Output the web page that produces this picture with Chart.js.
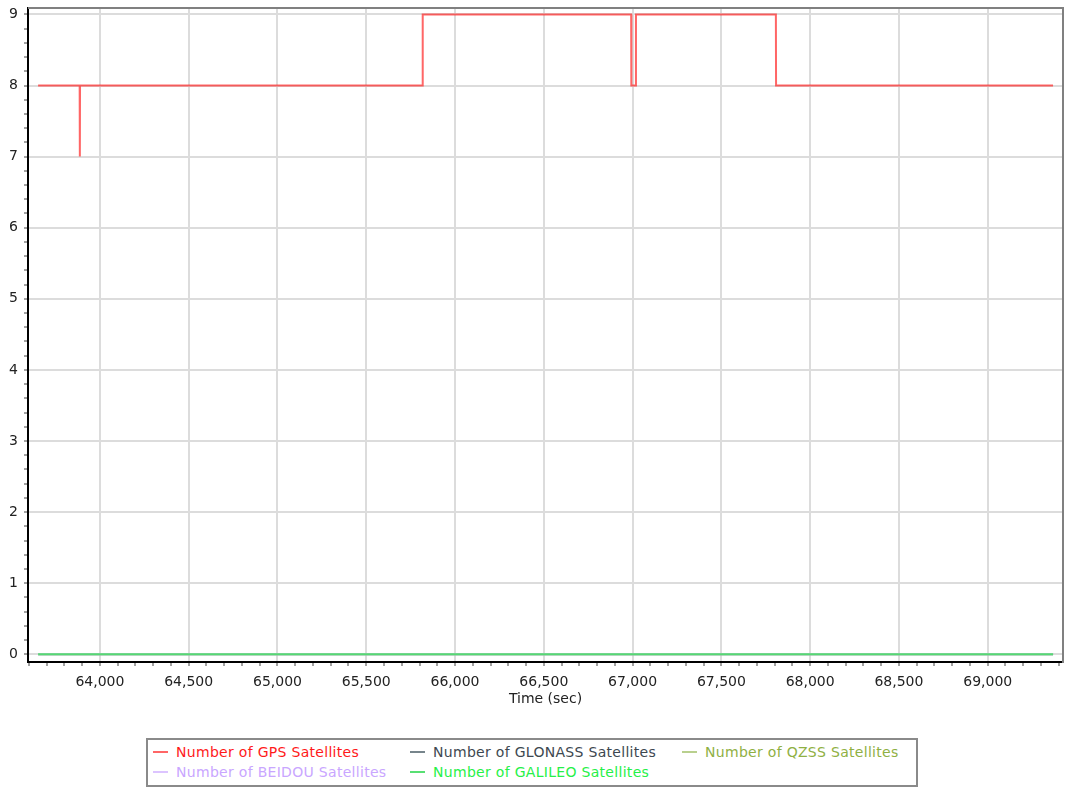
<!DOCTYPE html>
<html>
<head>
<meta charset="utf-8">
<script src="https://cdn.jsdelivr.net/npm/chart.js@4.4.1/dist/chart.umd.min.js"></script>
<style>
  html, body { margin: 0; padding: 0; background: #fff; }
  #wrap { position: relative; width: 1070px; height: 794px; overflow: hidden; }
  #chartBox { position: absolute; left: 0; top: 0; width: 1070px; height: 715px; }
  #legend {
    position: absolute; left: 146px; top: 738px; width: 768px; height: 45px;
    border: 2px solid #8a8a8a; background: #fff;
    font-family: "DejaVu Sans", Verdana, sans-serif; font-size: 14px; letter-spacing: 0.3px;
  }
  .item { position: absolute; height: 18px; line-height: 18px; white-space: nowrap; }
  .sw { position: absolute; left: 0; top: 8px; width: 15px; height: 2px; }
  .lbl { position: absolute; left: 23px; top: 0; }
</style>
</head>
<body>
<div id="wrap">
  <div id="chartBox"><canvas id="c"></canvas></div>
  <div id="legend"></div>
</div>
<script>
// ---- data ----
const timeSec = [63652, 63886, 63887, 63888, 65817, 65818, 66992, 66993, 67018, 67019, 67807, 67808, 69368];
const gpsSats = [8, 8, 7, 8, 8, 9, 9, 8, 8, 9, 9, 8, 8];
const zeroTimes = [63652, 69368];
const glonassSats = [0, 0];
const qzssSats = [0, 0];
const beidouSats = [0, 0];
const galileoSats = [0, 0];

const seriesNames = [
  "Number of GPS Satellites",
  "Number of GLONASS Satellites",
  "Number of QZSS Satellites",
  "Number of BEIDOU Satellites",
  "Number of GALILEO Satellites"
];
const lineColors = ["rgba(255,30,30,0.68)", "#77858c", "#b9d08e", "#dcc4ff", "rgba(70,220,100,0.9)"];
const textColors = ["#ff1a1a", "#3d4850", "#8fb043", "#c9a6ff", "#26f047"];

const xMin = 63595, xMax = 69424;
const yMin = -0.108, yMax = 9.09;

function pts(xs, ys) { return xs.map((x, i) => ({ x: x, y: ys[i] })); }

const seriesData = [
  pts(timeSec, gpsSats),
  pts(zeroTimes, glonassSats),
  pts(zeroTimes, qzssSats),
  pts(zeroTimes, beidouSats),
  pts(zeroTimes, galileoSats)
];
const drawOrder = [0, 3, 2, 1, -1];

const datasets = seriesNames.map((name, i) => ({
  label: name,
  data: seriesData[i],
  borderColor: lineColors[i],
  backgroundColor: lineColors[i],
  borderWidth: 2,
  pointRadius: 0,
  pointHoverRadius: 0,
  tension: 0,
  fill: false,
  order: drawOrder[i]
}));

const frame = {
  id: 'frame',
  afterDraw(chart) {
    const { ctx, chartArea: a } = chart;
    ctx.save();
    ctx.strokeStyle = '#808080';
    ctx.lineWidth = 2;
    ctx.beginPath();
    ctx.moveTo(a.left, a.top);
    ctx.lineTo(a.right, a.top);
    ctx.lineTo(a.right, a.bottom + 1);
    ctx.stroke();
    ctx.restore();
  }
};

const tickFont = { family: "DejaVu Sans, Verdana, sans-serif", size: 14 };

const chart = new Chart(document.getElementById('c'), {
  type: 'line',
  data: { datasets: datasets },
  plugins: [frame],
  options: {
    responsive: true,
    maintainAspectRatio: false,
    animation: false,
    events: [],
    layout: { padding: { left: 0, right: 7, top: 8, bottom: 0 } },
    plugins: { legend: { display: false }, tooltip: { enabled: false } },
    scales: {
      x: {
        type: 'linear',
        min: xMin, max: xMax,
        afterFit(scale) { scale.height = 53; scale.paddingLeft = 0; scale.paddingRight = 0; },
        border: { color: '#000', width: 2 },
        grid: {
          color: (c) => (c.tick && Math.round(c.tick.value) % 500 === 0) ? '#dcdcdc' : 'rgba(0,0,0,0)',
          lineWidth: 2,
          tickColor: '#444',
          tickWidth: 1,
          tickLength: 4
        },
        ticks: {
          stepSize: 100,
          maxTicksLimit: 1000,
          includeBounds: false,
          autoSkip: false,
          maxRotation: 0, minRotation: 0,
          padding: 8,
          color: '#222',
          font: tickFont,
          callback: (v) => (Math.round(v) % 500 === 0) ? Number(v).toLocaleString('en-US') : ''
        },
        title: {
          display: true, text: 'Time (sec)', color: '#222', font: tickFont,
          padding: { top: 0, bottom: 7 }
        }
      },
      y: {
        type: 'linear',
        min: yMin, max: yMax,
        afterFit(scale) { scale.width = 28; scale.paddingTop = 0; scale.paddingBottom = 0; },
        border: { color: '#000', width: 2 },
        grid: {
          color: (c) => (c.tick && Math.abs(c.tick.value - Math.round(c.tick.value)) < 1e-6) ? '#dcdcdc' : 'rgba(0,0,0,0)',
          lineWidth: 2,
          tickColor: '#444',
          tickWidth: 1,
          tickLength: 4
        },
        ticks: {
          stepSize: 0.2,
          maxTicksLimit: 1000,
          includeBounds: false,
          autoSkip: false,
          padding: 6,
          color: '#222',
          font: tickFont,
          callback: (v) => (Math.abs(v - Math.round(v)) < 1e-6) ? String(Math.round(v)) : ''
        }
      }
    }
  }
});

// ---- HTML legend built from the chart's datasets ----
const legendPos = [
  { left: 5, top: 3 }, { left: 262, top: 3 }, { left: 534, top: 3 },
  { left: 5, top: 23 }, { left: 262, top: 23 }
];
const legendEl = document.getElementById('legend');
chart.data.datasets.forEach((ds, i) => {
  const it = document.createElement('div');
  it.className = 'item';
  it.style.left = legendPos[i].left + 'px';
  it.style.top = legendPos[i].top + 'px';
  const sw = document.createElement('div');
  sw.className = 'sw';
  sw.style.background = ds.borderColor;
  const lb = document.createElement('span');
  lb.className = 'lbl';
  lb.style.color = textColors[i];
  lb.textContent = ds.label;
  it.appendChild(sw); it.appendChild(lb);
  legendEl.appendChild(it);
});
</script>
</body>
</html>
